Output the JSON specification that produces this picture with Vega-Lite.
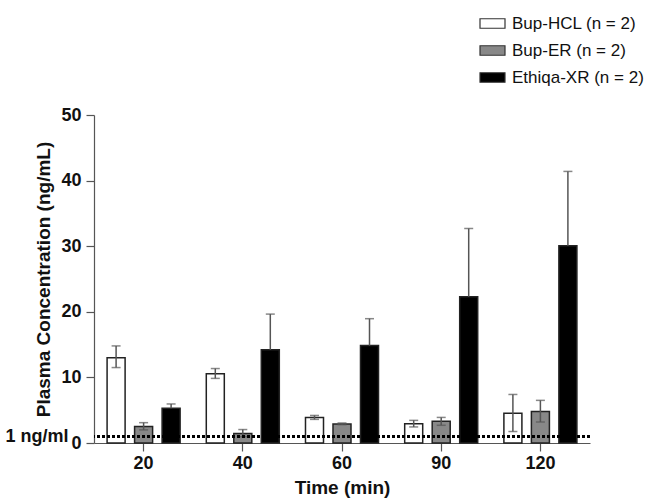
{
  "$schema": "https://vega.github.io/schema/vega-lite/v6.json",
  "width": 496,
  "height": 328,
  "autosize": {"type": "none"},
  "padding": {"left": 94, "top": 115, "right": 58, "bottom": 55},
  "background": "white",
  "config": {
    "font": "Liberation Sans",
    "view": {"stroke": null},
    "axis": {"grid": false, "domainColor": "#555555", "tickColor": "#555555", "domainWidth": 1.2, "tickWidth": 1.2, "labelColor": "#111111", "titleColor": "#111111"}
  },
  "data": {
    "values": [
      {"time": "20", "group": "Bup-HCL (n = 2)", "mean": 13.0, "lo": 11.5, "hi": 14.8},
      {"time": "20", "group": "Bup-ER (n = 2)", "mean": 2.5, "lo": 2.0, "hi": 3.1},
      {"time": "20", "group": "Ethiqa-XR (n = 2)", "mean": 5.3, "lo": 5.3, "hi": 5.95},
      {"time": "40", "group": "Bup-HCL (n = 2)", "mean": 10.55, "lo": 9.85, "hi": 11.35},
      {"time": "40", "group": "Bup-ER (n = 2)", "mean": 1.45, "lo": 0.95, "hi": 2.05},
      {"time": "40", "group": "Ethiqa-XR (n = 2)", "mean": 14.2, "lo": 14.2, "hi": 19.65},
      {"time": "60", "group": "Bup-HCL (n = 2)", "mean": 3.9, "lo": 3.6, "hi": 4.2},
      {"time": "60", "group": "Bup-ER (n = 2)", "mean": 2.9, "lo": 2.8, "hi": 3.05},
      {"time": "60", "group": "Ethiqa-XR (n = 2)", "mean": 14.85, "lo": 14.85, "hi": 18.95},
      {"time": "90", "group": "Bup-HCL (n = 2)", "mean": 2.95, "lo": 2.45, "hi": 3.45},
      {"time": "90", "group": "Bup-ER (n = 2)", "mean": 3.3, "lo": 2.7, "hi": 3.9},
      {"time": "90", "group": "Ethiqa-XR (n = 2)", "mean": 22.3, "lo": 22.3, "hi": 32.7},
      {"time": "120", "group": "Bup-HCL (n = 2)", "mean": 4.55, "lo": 1.75, "hi": 7.4},
      {"time": "120", "group": "Bup-ER (n = 2)", "mean": 4.8, "lo": 3.2, "hi": 6.5},
      {"time": "120", "group": "Ethiqa-XR (n = 2)", "mean": 30.05, "lo": 30.05, "hi": 41.4}
    ]
  },
  "encoding": {
    "x": {
      "field": "time", "type": "ordinal", "sort": ["20", "40", "60", "90", "120"],
      "scale": {"paddingInner": 0, "paddingOuter": 0},
      "axis": {"title": "Time (min)", "labelAngle": 0, "labelFontSize": 18, "labelFontWeight": "bold", "tickSize": 8, "labelPadding": 3, "titleFontSize": 19, "titleFontWeight": "bold", "titlePadding": 6}
    },
    "xOffset": {
      "field": "group", "type": "nominal",
      "sort": ["Bup-HCL (n = 2)", "Bup-ER (n = 2)", "Ethiqa-XR (n = 2)"],
      "scale": {"paddingInner": 0.345, "paddingOuter": 0.476}
    }
  },
  "layer": [
    {
      "mark": {"type": "bar", "stroke": "#222222", "strokeWidth": 1.5},
      "encoding": {
        "y": {
          "field": "mean", "type": "quantitative",
          "scale": {"domain": [0, 50], "nice": false},
          "axis": {
            "title": "Plasma Concentration (ng/mL)",
            "values": [0, 1, 10, 20, 30, 40, 50],
            "labelExpr": "datum.value == 1 ? '1 ng/ml' : datum.label",
            "labelOverlap": false,
            "labelFontSize": 18, "labelFontWeight": "bold",
            "tickSize": 8,
            "labelPadding": {"condition": {"test": "datum.value == 1", "value": 18}, "value": 5},
            "tickOpacity": {"condition": {"test": "datum.value == 1", "value": 0}, "value": 1},
            "titleFontSize": 19, "titleFontWeight": "bold",
            "titleX": -41
          }
        },
        "fill": {
          "field": "group", "type": "nominal",
          "sort": ["Bup-HCL (n = 2)", "Bup-ER (n = 2)", "Ethiqa-XR (n = 2)"],
          "scale": {"range": ["#ffffff", "#888888", "#000000"]},
          "legend": {
            "title": null, "orient": "none", "legendX": 385, "legendY": -105, "padding": 0,
            "symbolType": "M-1,-0.38H1V0.38H-1Z", "symbolSize": 625,
            "symbolStrokeColor": "#333333", "symbolStrokeWidth": 1.2,
            "labelFontSize": 17, "labelColor": "#111111", "labelOffset": 6, "rowPadding": 5
          }
        }
      }
    },
    {
      "mark": {"type": "rule", "color": "#555555", "strokeWidth": 1.5},
      "encoding": {
        "y": {"field": "lo", "type": "quantitative"},
        "y2": {"field": "hi"}
      }
    },
    {
      "mark": {"type": "tick", "color": "#555555", "size": 9, "thickness": 1.5},
      "encoding": {
        "y": {"field": "hi", "type": "quantitative"}
      }
    },
    {
      "transform": [{"filter": "datum.lo < datum.mean"}],
      "mark": {"type": "tick", "color": "#555555", "size": 9, "thickness": 1.5},
      "encoding": {
        "y": {"field": "lo", "type": "quantitative"}
      }
    },
    {
      "mark": {"type": "rule", "color": "#000000", "strokeWidth": 2.5, "strokeDash": [2.5, 2.5]},
      "encoding": {
        "y": {"datum": 1},
        "x": null,
        "xOffset": null
      }
    }
  ]
}
